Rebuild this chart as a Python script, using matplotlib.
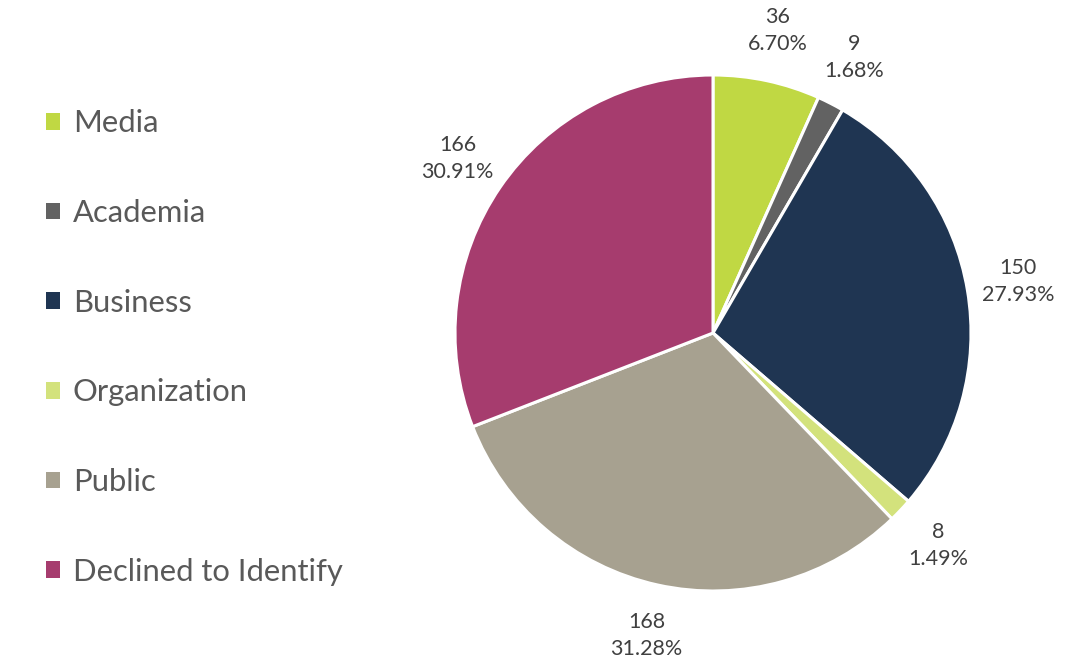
import matplotlib
matplotlib.use("Agg")
import matplotlib.pyplot as plt

# data
categories = ["Media", "Academia", "Business", "Organization", "Public", "Declined to Identify"]
counts = [36, 9, 150, 8, 168, 166]
colors = ["#C0D843", "#626262", "#1F3552", "#D3E27C", "#A7A190", "#A63C6E"]
total = sum(counts)

plt.rcParams['font.family'] = ['Lato', 'DejaVu Sans']

fig = plt.figure(figsize=(10.81, 6.66), dpi=100)
ax = fig.add_axes([455/1081, 75/666, 516/1081, 516/666])

def fmt(p):
    return "{}\n{:.2f}%".format(int(round(p * total / 100)), p)

wedges, texts = ax.pie(counts, colors=colors, startangle=90, counterclock=False,
                       radius=1, autopct=fmt, pctdistance=1.2,
                       wedgeprops=dict(edgecolor="white", linewidth=2.2),
                       textprops=dict(color="#404040", fontsize=15.5, linespacing=1.45))[:2]
ax.set_xlim(-1, 1)
ax.set_ylim(-1, 1)
ax.set_aspect("equal")
ax.axis("off")

leg = fig.legend(wedges, categories, loc="upper left", bbox_to_anchor=(34/1081, 1 - 97/666),
                 frameon=False, fontsize=22.3, labelcolor="#595959",
                 handlelength=0.45, handleheight=0.45, handletextpad=0.4,
                 labelspacing=1.99, borderaxespad=0)
for h in leg.legend_handles:
    h.set_linewidth(0)

fig.savefig("out.png", dpi=100)
